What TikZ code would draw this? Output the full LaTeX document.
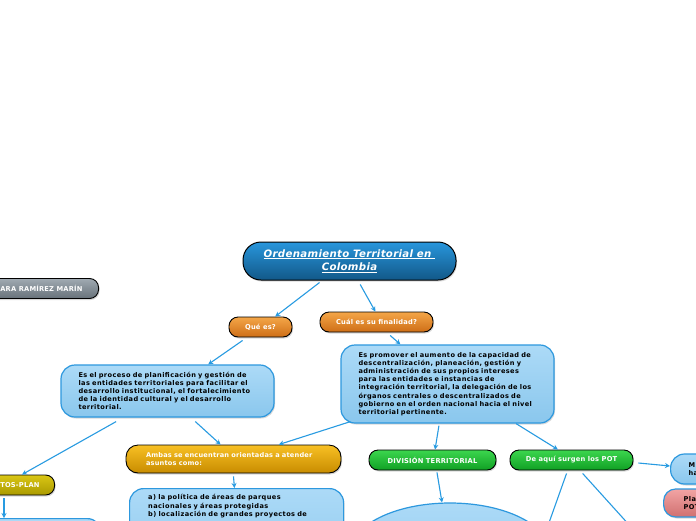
\documentclass[tikz,border=0pt]{standalone}
\usepackage{fontspec}
\setmainfont{DejaVu Sans}
\newfontfamily\boxf{DejaVu Sans}[LetterSpace=6]
\newfontfamily\ambf{DejaVu Sans}[LetterSpace=3]
\newfontfamily\labf{DejaVu Sans}[LetterSpace=3]
\newfontfamily\titf{DejaVu Sans}[LetterSpace=3]
\usetikzlibrary{shadows,calc,arrows.meta,shapes.geometric}
\definecolor{connc}{RGB}{40,155,225}
\definecolor{blTop}{RGB}{172,218,247}
\definecolor{blBot}{RGB}{138,199,237}
\definecolor{blBord}{RGB}{45,152,222}
\definecolor{orTop}{RGB}{244,166,72}
\definecolor{orBot}{RGB}{206,110,22}
\definecolor{gdTop}{RGB}{248,192,36}
\definecolor{gdBot}{RGB}{200,140,0}
\definecolor{grTop}{RGB}{60,214,78}
\definecolor{grBot}{RGB}{16,160,36}
\definecolor{olTop}{RGB}{218,198,20}
\definecolor{olBot}{RGB}{170,154,0}
\definecolor{gyTop}{RGB}{160,170,178}
\definecolor{gyBot}{RGB}{104,114,122}
\definecolor{pkTop}{RGB}{242,164,164}
\definecolor{pkBot}{RGB}{208,112,112}
\definecolor{tTop}{RGB}{40,150,220}
\definecolor{tMid}{RGB}{24,110,175}
\definecolor{tBot}{RGB}{18,88,136}
\tikzset{
  shad/.style={drop shadow={opacity=0.3,shadow xshift=1pt,shadow yshift=-1.5pt}},
  lbl/.style={font=\labf\bfseries\fontsize{6.7}{8.2}\selectfont},
  boxtxt/.style={font=\boxf\bfseries\fontsize{6.6}{8.2}\selectfont},
  pill/.style={shad,lbl,draw=black,line width=0.9pt,text=white,minimum height=20pt,rounded corners=9pt,inner sep=0pt},
  orangebox/.style={pill,top color=orTop,bottom color=orBot},
  goldbox/.style={pill,top color=gdTop,bottom color=gdBot,rounded corners=12pt,font=\ambf\bfseries\fontsize{6.6}{8.2}\selectfont},
  greenbox/.style={pill,top color=grTop,bottom color=grBot},
  olivebox/.style={pill,top color=olTop,bottom color=olBot},
  graybox/.style={pill,top color=gyTop,bottom color=gyBot},
  bluebox/.style={shad,boxtxt,draw=blBord,line width=1.2pt,top color=blTop,bottom color=blBot,rounded corners=14pt,text=black,align=left,inner sep=0pt},
  pinkbox/.style={shad,boxtxt,draw=blBord,line width=1.2pt,top color=pkTop,bottom color=pkBot,rounded corners=12pt,text=black,align=left,inner sep=0pt},
  titlebox/.style={shad,draw=black,line width=1pt,top color=tTop,middle color=tMid,bottom color=tBot,rounded corners=18pt,text=white,align=center,font=\titf\bfseries\itshape\fontsize{10.2}{13.5}\selectfont},
  btext/.style={boxtxt,text=black,align=left,inner sep=0pt},
  conn/.style={draw=connc,line width=1.1pt,-{Stealth[length=5pt,width=5pt]}},
  connplain/.style={draw=connc,line width=1.1pt}
}
\begin{document}
\begin{tikzpicture}[x=1pt,y=-1pt]
\useasboundingbox (0,0) rectangle (696,520);
\clip (0,0) rectangle (696,520);
\fill[white] (0,0) rectangle (696,520);

\node[titlebox,minimum width=213pt,minimum height=38pt] (t) at (349.5,261) {\underline{Ordenamiento Territorial en\ }\\\underline{Colombia}};
\node[graybox,anchor=east,inner xsep=16pt] (g) at (99,288.5) {ARA RAMÍREZ MARÍN};
\node[orangebox,minimum width=63pt] (q) at (260.5,327) {Qué es?};
\node[orangebox,minimum width=113pt] (c) at (376.5,322) {Cuál es su finalidad?};
\node[bluebox,minimum width=213pt,minimum height=52pt,text width=178pt] (b1) at (167.5,391) {Es el proceso de planificación y gestión de\\las entidades territoriales para facilitar el\\desarrollo institucional, el fortalecimiento\\de la identidad cultural y el desarrollo\\territorial.};
\node[bluebox,minimum width=213pt,minimum height=78pt,text width=178pt] (b2) at (447.5,384) {Es promover el aumento de la capacidad de\\descentralización, planeación, gestión y\\administración de sus propios intereses\\para las entidades e instancias de\\integración territorial, la delegación de los\\órganos centrales o descentralizados de\\gobierno en el orden nacional hacia el nivel\\territorial pertinente.};
\node[goldbox,minimum width=215pt,minimum height=28pt,text width=175pt,align=left] (a) at (233.5,459) {Ambas se encuentran orientadas a atender\\asuntos como:};
\node[olivebox,anchor=east,inner xsep=15pt] (tp) at (55,485) {TOS-PLAN};
\node[bluebox,anchor=north west,minimum width=214pt,minimum height=100pt] (b3) at (129,488) {};
\node[btext,anchor=north west,text width=190pt] (b3t) at (148,494.5) {a) la política de áreas de parques\\nacionales y áreas protegidas\\b) localización de grandes proyectos de};
\node[bluebox,anchor=north east,minimum width=150pt,minimum height=50pt] (bl) at (102,518) {};
\node[greenbox,minimum width=127pt] (d) at (432.5,460) {DIVISIÓN TERRITORIAL};
\node[greenbox,minimum width=123pt] (p) at (571.5,460) {De aquí surgen los POT};
\node[ellipse,shad,draw=blBord,line width=1.2pt,top color=blTop,bottom color=blBot,minimum width=200pt,minimum height=100pt] (e) at (450,553) {};
\node[bluebox,anchor=west,minimum height=30pt,text width=60pt,inner xsep=18pt] (m) at (670,469) {M\\ha};
\node[pinkbox,anchor=west,minimum height=28pt,text width=60pt,inner xsep=20pt] (pl) at (663,503) {Pla\\POT};
\coordinate (x1) at (540,548);
\coordinate (x2) at (650,548);

\draw[conn] ($(t.south west)!0.36!(t.south east)+(0,2)$) -- ($(q.north west)!0.73!(q.north east)$);
\draw[conn] ($(t.south west)!0.55!(t.south east)+(0,4)$) -- ($(c.north west)!0.49!(c.north east)$);
\draw[conn] ($(q.south west)!0.22!(q.south east)+(0,3)$) -- ($(b1.north west)!0.69!(b1.north east)$);
\draw[conn] ($(c.south west)!0.62!(c.south east)+(0,3)$) -- ($(b2.north west)!0.28!(b2.north east)$);
\draw[conn] ($(b1.south west)!0.63!(b1.south east)+(0,4)$) -- ($(a.north west)!0.44!(a.north east)$);
\draw[conn] ($(b1.south west)!0.26!(b1.south east)+(0,4)$) -- ($(tp.north east)+(-33,0)$);
\draw[conn] ($(b2.south west)+(10,-2)$) -- ($(a.north west)!0.71!(a.north east)$);
\draw[conn] ($(b2.south west)!0.46!(b2.south east)+(0,2)$) -- ($(d.north west)!0.52!(d.north east)$);
\draw[conn] ($(b2.south west)!0.82!(b2.south east)$) -- ($(p.north west)!0.39!(p.north east)$);
\draw[conn] ($(a.south west)!0.50!(a.south east)+(0,3)$) -- ($(b3.north west)!0.49!(b3.north east)$);
\draw[conn] ($(tp.south east)+(-51,3)$) -- ($(bl.north east)+(-98,0)$);
\draw[conn] ($(d.south west)!0.535!(d.south east)+(0,2)$) -- ($(e.north)+(-8,0)$);
\draw[connplain] ($(p.south west)!0.46!(p.south east)+(0,3)$) -- (x1);
\draw[connplain] ($(p.south west)!0.59!(p.south east)+(0,3)$) -- (x2);
\draw[conn] ($(p.east)+(5,3)$) -- ($(m.west)+(0,-3)$);
\end{tikzpicture}
\end{document}
